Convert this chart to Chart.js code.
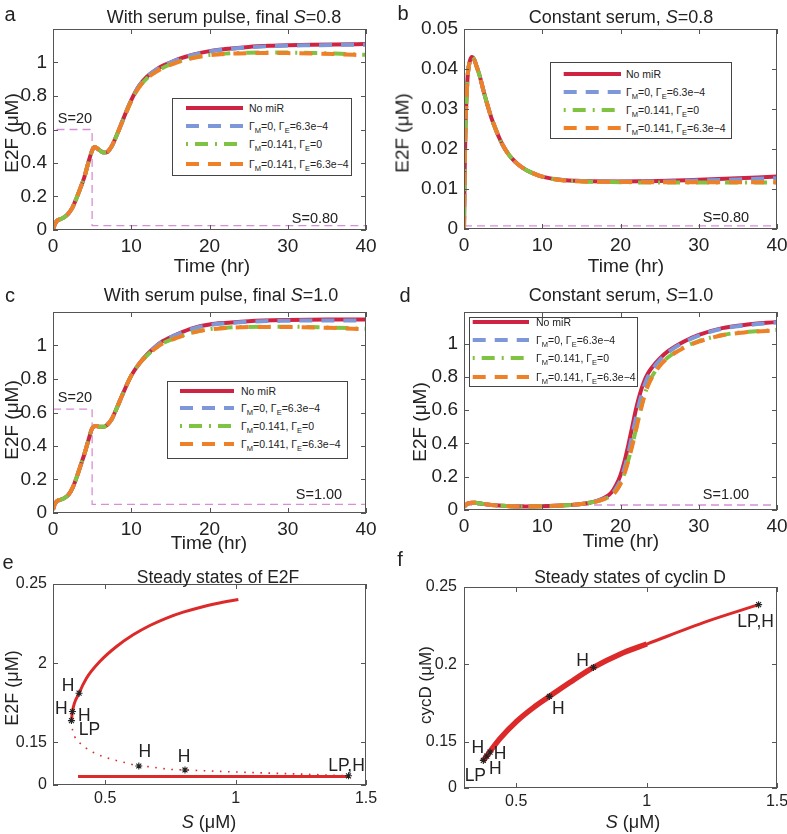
<!DOCTYPE html>
<html><head><meta charset="utf-8">
<script src="https://cdn.jsdelivr.net/npm/chart.js@4.4.1/dist/chart.umd.min.js"></script>
<style>
html,body{margin:0;padding:0;background:#fff}
body{position:relative;width:787px;height:834px;overflow:hidden;font-family:"Liberation Sans",Arial,Helvetica,sans-serif;color:#222}
canvas{position:absolute}
.tx{position:absolute;white-space:nowrap;transform:translate(-50%,-50%);line-height:1;z-index:3}
.rot{transform:translate(-50%,-50%) rotate(-90deg)}
.lg{position:absolute;border:1px solid #444;background:#fff;box-sizing:border-box;z-index:2}
.lr{position:absolute;left:0;height:14px;line-height:14px;font-size:10.5px;white-space:nowrap;width:100%}
.lr sub{font-size:7.5px;vertical-align:-3px;line-height:0}
</style></head><body>
<script>
// ================= DATA =================
// Panel a: serum pulse, final S = 0.8
const tA      = [0,0.2,0.5,1,1.5,2,2.5,3,3.5,4,4.5,5,5.3,5.7,6.2,6.6,7,7.5,8,9,10,11,12,13,14,15,16,18,20,22,25,28,30,33,36,40];
const aNoMiR  = [0,0.03,0.055,0.065,0.078,0.1,0.135,0.19,0.25,0.315,0.4,0.475,0.495,0.485,0.468,0.462,0.468,0.5,0.55,0.665,0.775,0.86,0.915,0.952,0.98,1.0,1.02,1.048,1.068,1.08,1.093,1.1,1.103,1.106,1.108,1.11];
const aGmE    = [0,0.03,0.055,0.065,0.078,0.1,0.135,0.19,0.25,0.315,0.4,0.475,0.495,0.485,0.468,0.462,0.468,0.5,0.55,0.665,0.775,0.86,0.915,0.952,0.98,1.0,1.018,1.046,1.066,1.078,1.09,1.098,1.101,1.103,1.105,1.106];
const aGmM    = [0,0.03,0.055,0.065,0.078,0.1,0.135,0.19,0.25,0.315,0.4,0.475,0.495,0.485,0.468,0.462,0.468,0.5,0.55,0.662,0.77,0.852,0.905,0.94,0.967,0.988,1.005,1.03,1.045,1.053,1.058,1.06,1.059,1.057,1.053,1.046];
const aGmME   = [0,0.03,0.055,0.065,0.078,0.1,0.135,0.19,0.25,0.315,0.4,0.475,0.495,0.485,0.468,0.462,0.468,0.5,0.55,0.662,0.77,0.852,0.905,0.94,0.966,0.986,1.003,1.028,1.043,1.051,1.056,1.057,1.056,1.054,1.05,1.043];
const aPulseT = [0,0,5,5,40];
const aPulseS = [0,0.6,0.6,0.026,0.026];

// Panel b: constant serum S = 0.8
const tB      = [0,0.05,0.1,0.2,0.35,0.5,0.75,1,1.3,1.6,2,2.5,3,3.5,4,4.5,5,5.5,6,7,8,9,10,12,15,20,25,30,35,40];
const bNoMiR  = [0,0.008,0.016,0.026,0.034,0.039,0.042,0.043,0.0424,0.0407,0.0383,0.0345,0.031,0.0278,0.0252,0.0228,0.0208,0.0192,0.0179,0.016,0.0147,0.0138,0.0131,0.0124,0.012,0.0119,0.012,0.0123,0.0127,0.0131];
const bGmE    = [0,0.008,0.016,0.026,0.034,0.039,0.042,0.043,0.0424,0.0407,0.0383,0.0345,0.031,0.0278,0.0252,0.0228,0.0208,0.0192,0.0179,0.016,0.0147,0.0138,0.0131,0.0124,0.012,0.0119,0.0119,0.0121,0.0124,0.0127];
const bGmM    = [0,0.008,0.016,0.026,0.034,0.039,0.042,0.043,0.0424,0.0407,0.0383,0.0345,0.031,0.0278,0.0252,0.0228,0.0208,0.0192,0.0179,0.016,0.0147,0.0138,0.0131,0.0123,0.0119,0.0117,0.0116,0.0116,0.0116,0.0116];
const bGmME   = [0,0.008,0.016,0.026,0.034,0.039,0.042,0.043,0.0424,0.0407,0.0383,0.0345,0.031,0.0278,0.0252,0.0228,0.0208,0.0192,0.0179,0.016,0.0147,0.0138,0.0131,0.0123,0.0119,0.0118,0.0117,0.0117,0.0117,0.0117];
const bPulseT = [0,40];
const bPulseS = [0.0008,0.0008];

// Panel c: serum pulse, final S = 1.0
const tC      = [0,0.2,0.5,1,1.5,2,2.5,3,3.5,4,4.5,5,5.5,6,6.5,7,7.5,8,9,10,11,12,13,14,16,18,20,22,25,30,35,40];
const cNoMiR  = [0.02,0.05,0.07,0.08,0.09,0.11,0.15,0.21,0.28,0.35,0.43,0.505,0.52,0.515,0.515,0.53,0.56,0.61,0.72,0.82,0.89,0.945,0.99,1.025,1.07,1.105,1.125,1.135,1.145,1.152,1.155,1.155];
const cGmE    = [0.02,0.05,0.07,0.08,0.09,0.11,0.15,0.21,0.28,0.35,0.43,0.505,0.52,0.515,0.515,0.53,0.56,0.61,0.72,0.82,0.89,0.945,0.99,1.025,1.068,1.102,1.122,1.132,1.142,1.148,1.15,1.15];
const cGmM    = [0.02,0.05,0.07,0.08,0.09,0.11,0.15,0.21,0.28,0.35,0.43,0.505,0.52,0.515,0.515,0.53,0.56,0.61,0.72,0.82,0.89,0.94,0.98,1.012,1.05,1.08,1.098,1.106,1.111,1.112,1.108,1.1];
const cGmME   = [0.02,0.05,0.07,0.08,0.09,0.11,0.15,0.21,0.28,0.35,0.43,0.505,0.52,0.515,0.515,0.53,0.56,0.61,0.72,0.82,0.89,0.94,0.98,1.012,1.048,1.078,1.096,1.104,1.11,1.11,1.106,1.097];
const cPulseT = [0,0,5,5,40];
const cPulseS = [0,0.62,0.62,0.052,0.052];

// Panel d: constant serum S = 1.0
const tD      = [0,0.5,1,1.5,2,3,4,5,7,10,13,15,16,17,18,18.5,19,19.5,20,20.5,21,21.5,22,22.5,23,23.5,24,25,26,28,30,33,36,40];
const dNoMiR  = [0.02,0.04,0.044,0.043,0.04,0.033,0.028,0.025,0.021,0.022,0.028,0.036,0.044,0.055,0.075,0.09,0.115,0.155,0.21,0.29,0.39,0.5,0.61,0.7,0.77,0.82,0.855,0.91,0.952,1.01,1.052,1.093,1.113,1.13];
const dGmE    = [0.02,0.04,0.044,0.043,0.04,0.033,0.028,0.025,0.021,0.022,0.028,0.036,0.044,0.054,0.07,0.082,0.1,0.135,0.18,0.25,0.34,0.45,0.56,0.66,0.74,0.8,0.84,0.9,0.945,1.005,1.048,1.09,1.11,1.127];
const dGmM    = [0.02,0.04,0.044,0.043,0.04,0.033,0.028,0.025,0.021,0.022,0.028,0.036,0.043,0.052,0.068,0.078,0.095,0.12,0.16,0.22,0.3,0.39,0.49,0.59,0.68,0.75,0.8,0.87,0.915,0.975,1.015,1.052,1.07,1.082];
const dGmME   = [0.02,0.04,0.044,0.043,0.04,0.033,0.028,0.025,0.021,0.022,0.028,0.036,0.043,0.052,0.067,0.077,0.093,0.118,0.157,0.216,0.295,0.385,0.485,0.585,0.675,0.745,0.795,0.866,0.912,0.972,1.012,1.05,1.068,1.08];
const dPulseT = [0,40];
const dPulseS = [0.03,0.03];

// Panel e: steady states of E2F vs S
const eHighS = [0.3707,0.3745,0.3999,0.4283,0.4794,0.5435,0.6073,0.6714,0.7356,0.7993,0.8635,0.9276,1.0106];
const eHighV = [0.1637,0.1694,0.181,0.1905,0.201,0.2105,0.2179,0.2238,0.2285,0.2322,0.2352,0.2377,0.2402];
const eUnstS = [0.3707,0.3745,0.3833,0.40,0.4244,0.4498,0.4859,0.5178,0.5497,0.578,0.629,0.6649,0.6972,0.7483,0.806,1.0555,1.2477,1.433];
const eUnstV = [0.1637,0.1582,0.1535,0.15,0.1466,0.144,0.1413,0.1396,0.1382,0.1371,0.135,0.1346,0.1339,0.1329,0.1325,0.1309,0.1299,0.1288];
const eLowS  = [0.396,1.433];
const eLowV  = [0.1283,0.1283];
const eBifS  = [0.3707,0.3745,0.3999,0.629,0.806,1.433];
const eBifV  = [0.1637,0.1694,0.181,0.135,0.1325,0.1288];

// Panel f: steady states of cyclin D vs S
const fHighS = [0.3717,0.4382,0.5023,0.566,0.6274,0.7068,0.7963,0.9,1.0012];
const fHighV = [0.1375,0.1522,0.1634,0.1722,0.1794,0.1885,0.1981,0.2068,0.2132];
const fLowS  = [0.3998,0.4382,0.5023,0.566,0.6274,0.7068,0.7963,0.9,1.0012,1.2315,1.4296];
const fLowV  = [0.1435,0.1522,0.1634,0.1722,0.1794,0.1885,0.1981,0.2068,0.2132,0.2278,0.2386];
const fBifS  = [0.3741,0.3871,0.3998,0.6274,0.7963,1.4295];
const fBifV  = [0.1381,0.1409,0.1435,0.1794,0.1981,0.2386];

// Tick values and labels
const timeTicks = [0,10,20,30,40];
const timeTickLabels = ['0','10','20','30','40'];
const e2fTicks = [0,0.2,0.4,0.6,0.8,1];
const e2fTickLabels = ['0','0.2','0.4','0.6','0.8','1'];
const bTicks = [0,0.01,0.02,0.03,0.04,0.05];
const bTickLabels = ['0','0.01','0.02','0.03','0.04','0.05'];
const sTicks = [0.5,1,1.5];
const sTickLabels = ['0.5','1','1.5'];
const eYTicks = [0.123,0.15,0.2,0.25];
const eYTickLabels = ['0','0.15','2','0.25'];
const fYTicks = [0.1203,0.15,0.2,0.25];
const fYTickLabels = ['0','0.15','0.2','0.25'];

const seriesNames = ['No miR',
  '\u0393<sub>M</sub>=0, \u0393<sub>E</sub>=6.3e\u22124',
  '\u0393<sub>M</sub>=0.141, \u0393<sub>E</sub>=0',
  '\u0393<sub>M</sub>=0.141, \u0393<sub>E</sub>=6.3e\u22124'];

// ================= STYLE / BUILD =================
const FONT = '"Liberation Sans", Arial, Helvetica, sans-serif';
const seriesStyles = [
  {color:'#cf2343', dash:[], order:4},
  {color:'#7d97d8', dash:[13,9], order:3},
  {color:'#80c342', dash:[2,7,13,7], order:2},
  {color:'#ee8027', dash:[13,9], order:1}
];
const RED2 = '#dc2a2a', PULSE = '#d690d6';
const pts = (xs, ys) => xs.map((x,i)=>({x, y:ys[i]}));

function timeSets(t, arrs, pt, ps){
  const ds = arrs.map((a,k)=>({data:pts(t,a), borderColor:seriesStyles[k].color, borderDash:seriesStyles[k].dash,
    borderWidth:4, order:seriesStyles[k].order, cubicInterpolationMode:'monotone', pointRadius:0}));
  ds.push({data:pts(pt,ps), borderColor:PULSE, borderDash:[8,5], borderWidth:1.3, tension:0, order:9, pointRadius:0});
  return ds;
}

const framePlugin = {
  id:'frame',
  afterDraw(chart, args, opts){
    const {ctx, chartArea:a, scales:{x,y}} = chart;
    ctx.save();
    ctx.strokeStyle = '#555'; ctx.lineWidth = 1;
    ctx.strokeRect(Math.round(a.left)+0.5, Math.round(a.top)+0.5, Math.round(a.right-a.left)-1, Math.round(a.bottom-a.top)-1);
    const L = 5;
    ctx.beginPath();
    x.ticks.forEach(t=>{ const px = Math.round(x.getPixelForValue(t.value))+0.5;
      ctx.moveTo(px,a.bottom); ctx.lineTo(px,a.bottom-L); ctx.moveTo(px,a.top); ctx.lineTo(px,a.top+L); });
    y.ticks.forEach(t=>{ const py = Math.round(y.getPixelForValue(t.value))+0.5;
      ctx.moveTo(a.left,py); ctx.lineTo(a.left+L,py); ctx.moveTo(a.right,py); ctx.lineTo(a.right-L,py); });
    ctx.stroke();
    (opts.notes||[]).forEach(n=>{
      const el = chart.getDatasetMeta(n.ds).data[n.i];
      ctx.font = (opts.noteSize||15)+'px '+FONT; ctx.fillStyle = '#222';
      ctx.textAlign = 'center'; ctx.textBaseline = 'middle';
      ctx.fillText(n.text, el.x + n.dx, el.y + n.dy);
    });
    ctx.restore();
  }
};

function makeChart(o){
  const YW=52, PT=20, PR=22, XH=34;
  const [L,T,R,B] = o.rect;
  const cv = document.createElement('canvas');
  cv.width = YW+(R-L)+PR; cv.height = PT+(B-T)+XH;
  cv.style.left = (L-YW)+'px'; cv.style.top = (T-PT)+'px';
  document.body.appendChild(cv);
  const tf = {family:FONT, size:o.tickSize};
  const axis = (ax, isX) => ({
    type:'linear', min:ax.min, max:ax.max,
    grid:{display:false, drawTicks:false}, border:{display:false},
    afterBuildTicks: s => { s.ticks = ax.ticks.map(v=>({value:v})); },
    afterFit: s => { if(isX) s.height = XH; else s.width = YW; },
    ticks:{font:tf, color:'#222', padding: isX ? o.xPad : o.yPad, autoSkip:false, maxRotation:0, minRotation:0,
      callback:(v,i)=>ax.labels[i]}
  });
  return new Chart(cv, {type:'line', data:{datasets:o.datasets}, options:{
    responsive:false, animation:false, events:[],
    layout:{padding:{left:0, top:PT, right:PR, bottom:0}},
    plugins:{legend:{display:false}, tooltip:{enabled:false}, frame:{notes:o.notes||[], noteSize:o.noteSize}},
    scales:{x:axis(o.x,true), y:axis(o.y,false)},
    elements:{point:{radius:0}}
  }, plugins:[framePlugin]});
}

function text(html, x, y, size, extra){
  const d = document.createElement('div'); d.className = 'tx' + (extra&&extra.rot ? ' rot' : '');
  d.innerHTML = html; d.style.left = x+'px'; d.style.top = y+'px'; d.style.fontSize = size+'px';
  document.body.appendChild(d);
}

function makeLegend(box, rowYs, sx0, sx1, tx){
  const d = document.createElement('div'); d.className = 'lg';
  Object.assign(d.style, {left:box[0]+'px', top:box[1]+'px', width:box[2]+'px', height:box[3]+'px'});
  seriesStyles.forEach((st,k)=>{
    const r = document.createElement('div'); r.className = 'lr'; r.style.top = (rowYs[k]-8)+'px';
    const dash = st.dash.length ? st.dash.join(' ') : 'none';
    r.innerHTML = `<svg width="${sx1+2}" height="14" style="position:absolute;left:0;top:0"><line x1="${sx0}" y1="7" x2="${sx1}" y2="7" stroke="${st.color}" stroke-width="4" stroke-dasharray="${dash}"/></svg><span style="position:absolute;left:${tx}px;top:0">${seriesNames[k]}</span>`;
    d.appendChild(r);
  });
  document.body.appendChild(d);
}

const timeX = {min:0, max:40, ticks:timeTicks, labels:timeTickLabels};
const sX = {min:0.3, max:1.5, ticks:sTicks, labels:sTickLabels};

// a
makeChart({rect:[53,29,366,230], tickSize:19, xPad:5, yPad:6, noteSize:14.5,
  datasets: timeSets(tA,[aNoMiR,aGmE,aGmM,aGmME],aPulseT,aPulseS),
  x:timeX, y:{min:0,max:1.2,ticks:e2fTicks,labels:e2fTickLabels},
  notes:[{ds:4,i:1,text:'S=20',dx:22,dy:-11},{ds:4,i:4,text:'S=0.80',dx:-51,dy:-7}]});
// b
makeChart({rect:[464,29,777,229], tickSize:19, xPad:5, yPad:6, noteSize:14.5,
  datasets: timeSets(tB,[bNoMiR,bGmE,bGmM,bGmME],bPulseT,bPulseS),
  x:timeX, y:{min:0,max:0.05,ticks:bTicks,labels:bTickLabels},
  notes:[{ds:4,i:1,text:'S=0.80',dx:-51,dy:-8}]});
// c
makeChart({rect:[53,312,366,513], tickSize:19, xPad:5, yPad:6, noteSize:14.5,
  datasets: timeSets(tC,[cNoMiR,cGmE,cGmM,cGmME],cPulseT,cPulseS),
  x:timeX, y:{min:0,max:1.2,ticks:e2fTicks,labels:e2fTickLabels},
  notes:[{ds:4,i:1,text:'S=20',dx:22,dy:-11},{ds:4,i:4,text:'S=1.00',dx:-47,dy:-9}]});
// d
makeChart({rect:[464,312,777,510], tickSize:19, xPad:5, yPad:6, noteSize:14.5,
  datasets: timeSets(tD,[dNoMiR,dGmE,dGmM,dGmME],dPulseT,dPulseS),
  x:timeX, y:{min:0,max:1.19,ticks:e2fTicks,labels:e2fTickLabels},
  notes:[{ds:4,i:1,text:'S=1.00',dx:-51,dy:-10}]});
// e
makeChart({rect:[53,584,366,785], tickSize:16, xPad:4, yPad:6, noteSize:17.5,
  datasets:[
    {data:pts(eHighS,eHighV), borderColor:RED2, borderWidth:3, cubicInterpolationMode:'monotone', order:3},
    {data:pts(eUnstS,eUnstV), borderColor:RED2, borderWidth:1.6, borderDash:[1.6,6.5], cubicInterpolationMode:'monotone', order:4},
    {data:pts(eLowS,eLowV), borderColor:RED2, borderWidth:3, tension:0, order:3},
    {data:pts(eBifS,eBifV), showLine:false, pointStyle:'star', pointRadius:3.5, pointBorderColor:'#222', pointBorderWidth:1.1, order:0}
  ],
  x:sX, y:{min:0.123,max:0.25,ticks:eYTicks,labels:eYTickLabels},
  notes:[{ds:3,i:2,text:'H',dx:-11,dy:-7},{ds:3,i:1,text:'H',dx:-11,dy:-2},{ds:3,i:1,text:'H',dx:12,dy:5},
         {ds:3,i:0,text:'LP',dx:18,dy:10},{ds:3,i:3,text:'H',dx:6,dy:-14},{ds:3,i:4,text:'H',dx:-1,dy:-13},
         {ds:3,i:5,text:'LP,H',dx:-2,dy:-10}]});
// f
makeChart({rect:[464,587,777,788], tickSize:16, xPad:4, yPad:7, noteSize:17.5,
  datasets:[
    {data:pts(fHighS,fHighV), borderColor:RED2, borderWidth:5.5, cubicInterpolationMode:'monotone', order:3},
    {data:pts(fLowS,fLowV), borderColor:RED2, borderWidth:3, cubicInterpolationMode:'monotone', order:3},
    {data:pts(fBifS,fBifV), showLine:false, pointStyle:'star', pointRadius:3.5, pointBorderColor:'#222', pointBorderWidth:1.1, order:0}
  ],
  x:sX, y:{min:0.1203,max:0.25,ticks:fYTicks,labels:fYTickLabels},
  notes:[{ds:2,i:1,text:'H',dx:-9,dy:-8},{ds:2,i:2,text:'H',dx:10,dy:2},{ds:2,i:0,text:'LP',dx:-8,dy:16},
         {ds:2,i:0,text:'H',dx:12,dy:9},{ds:2,i:3,text:'H',dx:9,dy:13},{ds:2,i:4,text:'H',dx:-11,dy:-6},
         {ds:2,i:5,text:'LP,H',dx:-3,dy:18}]});

// Legends
makeLegend([172,98,180,78],[9.7,27.7,46.3,66],13,70,76);
makeLegend([550,62,182,77],[12,29.5,47.5,66],12.7,70,75);
makeLegend([167,381,181,78],[9.7,26.5,44.5,62.5],12,66,73);
makeLegend([469,317,169,70],[5.3,22.5,41.3,60.3],2.7,59,66);

// Titles, panel letters, axis titles
text('a',10,14,20); text('b',403,13,20); text('c',10,295,20); text('d',405,295,20); text('e',8,562,20); text('f',400,559,20);
text('With serum pulse, final <i>S</i>=0.8',224,17,18);
text('Constant serum, <i>S</i>=0.8',621,17,18);
text('With serum pulse, final <i>S</i>=1.0',221,295,18);
text('Constant serum, <i>S</i>=1.0',621,295,18);
text('Steady states of E2F',218,578,17.5);
text('Steady states of cyclin D',630,578,17.5);
text('E2F (\u03bcM)',11,133,19,{rot:1}); text('E2F (\u03bcM)',401.5,133,19,{rot:1});
text('E2F (\u03bcM)',11,420,19,{rot:1}); text('E2F (\u03bcM)',419,422,19,{rot:1});
text('E2F (\u03bcM)',12,688,18,{rot:1}); text('cycD (\u03bcM)',425,685,17,{rot:1});
text('Time (hr)',212,265,19); text('Time (hr)',626,265,19);
text('Time (hr)',209,542,19); text('Time (hr)',621,540,19);
text('<i>S</i> (\u03bcM)',209,822,18); text('<i>S</i> (\u03bcM)',633,822,18);
</script></body></html>
